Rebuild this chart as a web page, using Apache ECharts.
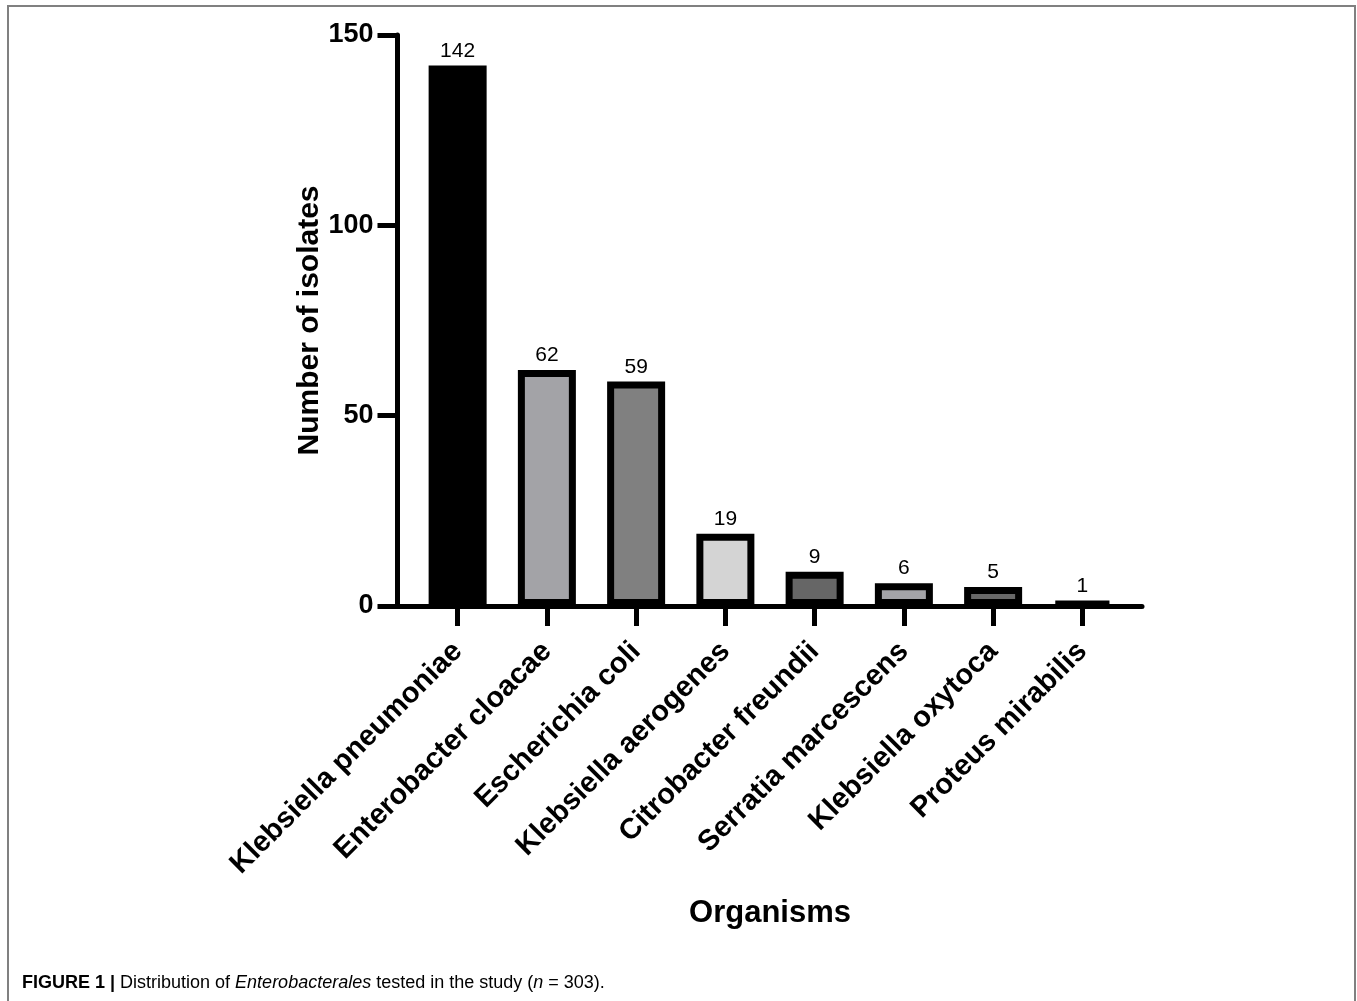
<!DOCTYPE html>
<html><head><meta charset="utf-8">
<script src="https://cdn.jsdelivr.net/npm/echarts@6/dist/echarts.min.js"></script>
<style>html,body{margin:0;padding:0;background:#fff}#c{width:1357px;height:1001px}</style>
</head><body><div id="c"></div>
<script>
const categories = ['Klebsiella pneumoniae','Enterobacter cloacae','Escherichia coli','Klebsiella aerogenes','Citrobacter freundii','Serratia marcescens','Klebsiella oxytoca','Proteus mirabilis'];
const counts = [142, 62, 59, 19, 9, 6, 5, 1];
const barColors = ['#000000','#a3a3a7','#808080','#d4d4d4','#666666','#a3a3a7','#686868','#808080'];
const yTicks = [0, 50, 100, 150];
const yTitle = 'Number of isolates';
const xTitle = 'Organisms';

const FONT = '"Liberation Sans", Arial, sans-serif';
const chart = echarts.init(document.getElementById('c'), null, {renderer: 'canvas'});
chart.setOption({
  animation: false,
  backgroundColor: '#fff',
  grid: [
    {left: 413, width: 714, top: 35, bottom: 395, containLabel: false},
    {left: 395, right: 215, top: 35, bottom: 395, containLabel: false}
  ],
  xAxis: [
    {
      type: 'category', gridIndex: 0, data: categories,
      axisLine: {show: false},
      axisTick: {show: true, alignWithLabel: true, length: 20, lineStyle: {color: '#000', width: 5}},
      axisLabel: {rotate: 45, margin: 41, color: '#000', fontFamily: FONT, fontWeight: 'bold', fontSize: 29, interval: 0},
      name: xTitle, nameLocation: 'middle', nameGap: 292, nameMoveOverlap: false,
      nameTextStyle: {color: '#000', fontFamily: FONT, fontWeight: 'bold', fontSize: 31}
    },
    {
      type: 'value', gridIndex: 1, min: 0, max: 1,
      axisLine: {show: true, lineStyle: {color: '#000', width: 5}},
      axisTick: {show: false}, axisLabel: {show: false}, splitLine: {show: false}
    }
  ],
  yAxis: [
    {
      type: 'value', gridIndex: 0, min: yTicks[0], max: yTicks[yTicks.length - 1], interval: yTicks[1] - yTicks[0],
      offset: 15.5,
      axisLine: {show: true, lineStyle: {color: '#000', width: 5}},
      axisTick: {show: true, length: 20, lineStyle: {color: '#000', width: 5}},
      axisLabel: {margin: 24, color: '#000', fontFamily: FONT, fontWeight: 'bold', fontSize: 27},
      splitLine: {show: false},
      name: yTitle, nameLocation: 'middle', nameGap: 73, nameMoveOverlap: false,
      nameTextStyle: {color: '#000', fontFamily: FONT, fontWeight: 'bold', fontSize: 30}
    },
    {type: 'value', gridIndex: 1, show: false}
  ],
  series: [{
    type: 'bar', xAxisIndex: 0, yAxisIndex: 0,
    barWidth: 58,
    data: counts.map((v, i) => ({value: v, itemStyle: {color: barColors[i], borderColor: '#000', borderWidth: 7}})),
    label: {show: true, position: 'top', distance: 4, color: '#000', fontFamily: FONT, fontSize: 21}
  }],
  graphic: [
    {type: 'rect', shape: {x: 8, y: 6, width: 1347, height: 1020}, style: {fill: 'none', stroke: '#808080', lineWidth: 2}, silent: true},
    {type: 'text', left: 22, top: 974, style: {
      text: '{b|FIGURE 1 |} {r|Distribution of }{i|Enterobacterales}{r| tested in the study (}{i|n}{r| = 303).}',
      fontFamily: '"Liberation Sans Narrow", "Liberation Sans", sans-serif', fontSize: 18, fill: '#000',
      rich: {
        b: {fontWeight: 'bold', fontFamily: '"Liberation Sans Narrow", "Liberation Sans", sans-serif', fontSize: 18, fill: '#000'},
        r: {fontFamily: '"Liberation Sans Narrow", "Liberation Sans", sans-serif', fontSize: 18, fill: '#000'},
        i: {fontStyle: 'italic', fontFamily: '"Liberation Sans Narrow", "Liberation Sans", sans-serif', fontSize: 18, fill: '#000'}
      }
    }}
  ]
});
</script></body></html>
